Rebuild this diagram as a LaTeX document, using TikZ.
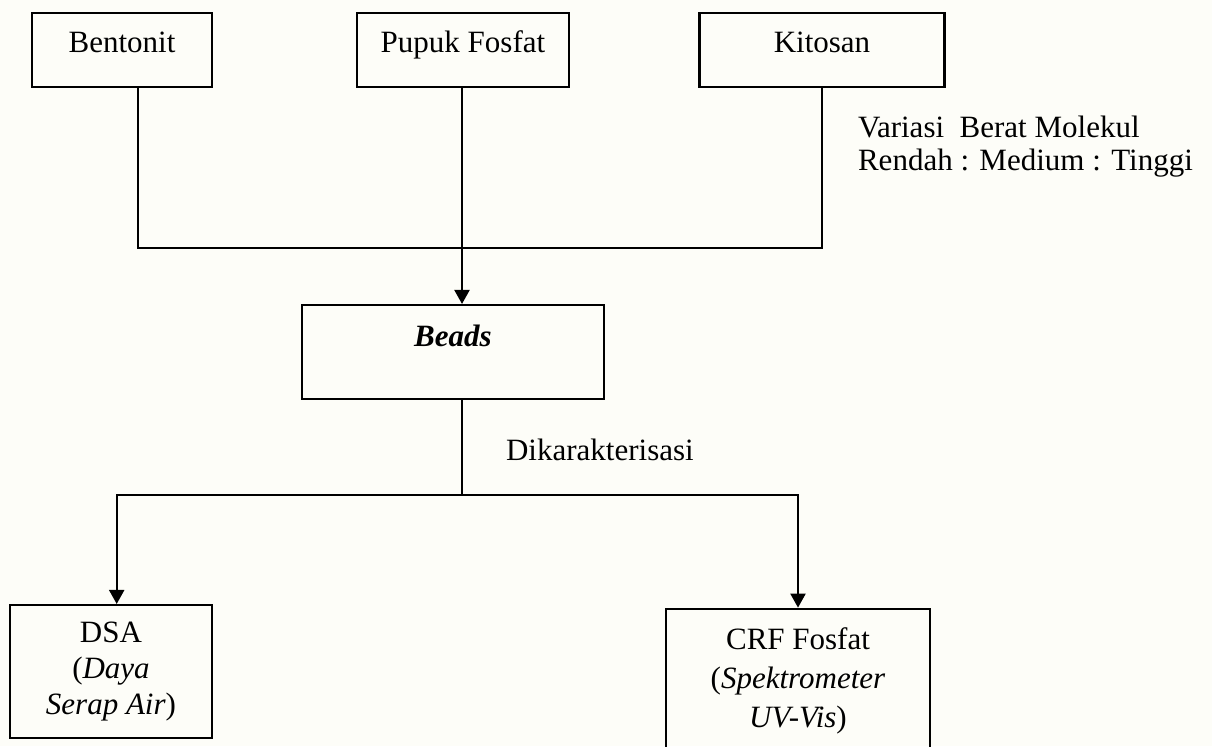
\documentclass[tikz,border=0pt]{standalone}
\usepackage{fontspec}
\setmainfont{Liberation Serif}
\usetikzlibrary{
    arrows.meta, % for the filled arrow tips
    positioning  % for placing nodes relative to other nodes
}
\definecolor{paper}{RGB}{253,253,248}

\begin{document}
\begin{tikzpicture}[
    x=0.387pt,y=-0.387pt,line width=0.8pt,>={Triangle[length=5.4pt,width=5.8pt]},
    every node/.style  = {inner sep=0pt,font=\fontsize{12}{14}\selectfont},
    bahan/.style       = {draw,text height=15.5pt,text depth=13.2pt},
    hasil/.style       = {draw,align=center},
    ket/.style         = {align=left,font=\fontsize{12}{12.6}\selectfont}
]

% paper
    \useasboundingbox[fill=paper] (0,0) rectangle (1212,746);
    \clip (0,0) rectangle (1212,746);

% starting materials (top row)

    \node [bahan,minimum width=69.7pt] (bent)  at (122,50) {Bentonit};
    \node [bahan,minimum width=82pt]   (pupuk) at (463,50) {Pupuk Fosfat};
    \node [bahan,minimum width=94.8pt] (kit)   at (822,50) {Kitosan};
    \node [ket,anchor=base west]       (bm)    at (857,170)
        {Variasi\ \ Berat Molekul\\Rendah : Medium : Tinggi};

% beads

    \node [draw,minimum width=116.9pt,text height=15.9pt,text depth=20.5pt] (beads) at (453,352)
        {\textbf{\textit{Beads}}};
    \node [anchor=base west] (karak) at (505,460) {Dikarakterisasi};

% characterisation (bottom row)

    \node [hasil,minimum width=78.2pt,minimum height=51.5pt] (dsa) at (111,671.5)
        {DSA\\(\textit{Daya}\\\textit{Serap Air})};
    \node [hasil,minimum width=102.2pt,minimum height=56pt,
           font=\fontsize{12}{15}\selectfont]           (crf) at (798,681)
        {CRF Fosfat\\(\textit{Spektrometer}\\\textit{UV-Vis})};

% connectors

    \coordinate (jl)    at (138,248.3);
    \coordinate (dl)    at (116.7,495);
    \coordinate (split) at (462,495);

    \draw (bent.south -| jl) -- (jl) -| (kit.south);
    \draw [->] (pupuk.south -| split) -- (split |- beads.north);
    \draw (split |- beads.south) -- (split);
    \draw [->] (split) -| (crf.north);
    \draw [->] (split) -- (dl) -- (dl |- dsa.north);

\end{tikzpicture}
\end{document}
